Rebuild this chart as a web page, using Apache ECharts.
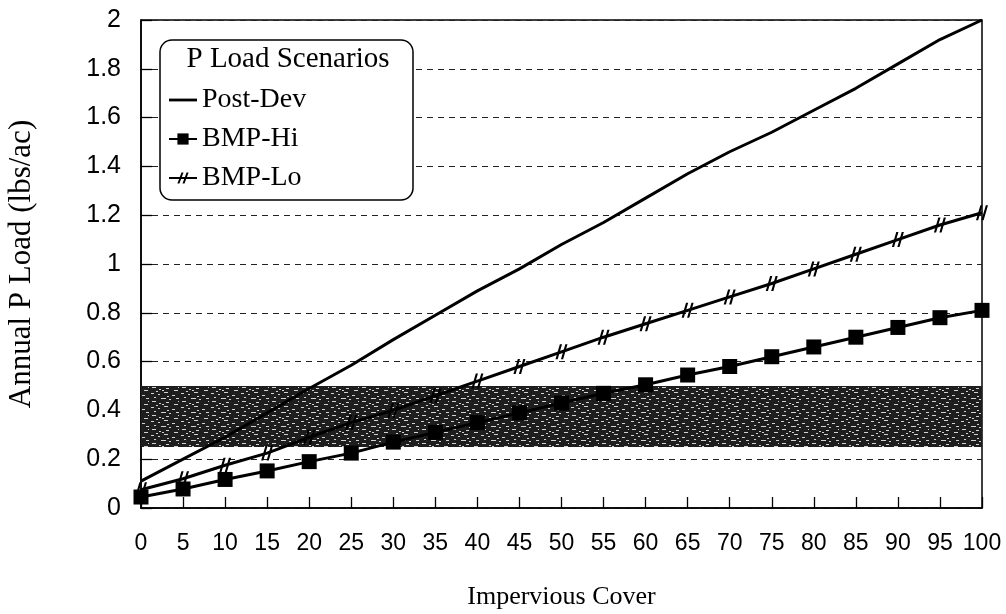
<!DOCTYPE html>
<html><head><meta charset="utf-8">
<script src="https://cdn.jsdelivr.net/npm/echarts@6/dist/echarts.min.js"></script>
<style>html,body{margin:0;padding:0;background:#fff}#c{width:1006px;height:614px}</style>
</head><body><div id="c"></div>
<script>
const xCats = [0,5,10,15,20,25,30,35,40,45,50,55,60,65,70,75,80,85,90,95,100];
const postDev = [0.11,0.20,0.29,0.39,0.49,0.585,0.69,0.79,0.89,0.98,1.08,1.17,1.27,1.37,1.46,1.54,1.63,1.72,1.82,1.92,2.00];
const bmpHi = [0.045,0.078,0.117,0.152,0.19,0.225,0.27,0.31,0.35,0.39,0.43,0.47,0.505,0.545,0.58,0.62,0.66,0.70,0.74,0.78,0.81];
const bmpLo = [0.075,0.12,0.175,0.225,0.29,0.35,0.40,0.46,0.52,0.58,0.64,0.70,0.755,0.81,0.865,0.92,0.98,1.04,1.10,1.16,1.21];
const bandRange = [0.25, 0.5];
const seriesNames = ['Post-Dev','BMP-Hi','BMP-Lo'];
const legendTitle = 'P Load Scenarios';
const xTitle = 'Impervious Cover';
const yTitle = 'Annual P Load (lbs/ac)';

function pairs(vals){ return xCats.map((x,i)=>[x, vals[i]]); }

// stipple texture for the band
const tile = document.createElement('canvas');
tile.width = 30; tile.height = 14;
const tc = tile.getContext('2d');
tc.fillStyle = '#1e1e1e'; tc.fillRect(0,0,30,14);
tc.fillStyle = 'rgba(255,255,255,0.8)';
const dots = [[1,1,3,1],[8,2,2,1],[14,0,4,1],[22,3,3,1],[4,5,2,1],[11,6,5,1],[19,7,2,1],[26,6,3,1],[2,9,4,1],[9,11,2,1],[16,10,3,1],[24,12,4,1],[6,13,2,1],[28,9,1,1],[17,4,2,1],[12,12,2,1]];
dots.forEach(d=>tc.fillRect(d[0],d[1],d[2],d[3]));

const hashSym = 'path://M4,0 L6,0 L2,12 L0,12 Z M9,0 L11,0 L7,12 L5,12 Z';
const lineIcon = 'path://M0,0 L30,0 L30,3 L0,3 Z';
const serif = '"Liberation Serif", "DejaVu Serif", serif';
const sans = '"Liberation Sans", Arial, sans-serif';

const chart = echarts.init(document.getElementById('c'));
chart.setOption({
  animation: false,
  backgroundColor: '#fff',
  grid: { left: 141, right: 24, top: 20, bottom: 106, containLabel: false, outerBoundsMode: 'none',
    show: true, borderColor: '#000', borderWidth: 1.5 },
  xAxis: {
    type: 'value', min: 0, max: 100, interval: 5,
    name: xTitle, nameLocation: 'middle', nameGap: 76,
    nameTextStyle: { fontFamily: serif, fontSize: 26, color: '#000' },
    axisLine: { lineStyle: { color: '#000', width: 1.5 } },
    axisTick: { inside: true, length: 11, lineStyle: { color: '#000', width: 1.3 } },
    axisLabel: { fontFamily: sans, fontSize: 23, color: '#000', margin: 24 },
    splitLine: { show: false }
  },
  yAxis: {
    type: 'value', min: 0, max: 2, interval: 0.2,
    name: yTitle, nameLocation: 'middle', nameGap: 104,
    nameTextStyle: { fontFamily: serif, fontSize: 31, color: '#000' },
    axisLine: { lineStyle: { color: '#000', width: 1.5 } },
    axisTick: { inside: true, length: 11, lineStyle: { color: '#000', width: 1.3 } },
    axisLabel: { fontFamily: sans, fontSize: 25, color: '#000', margin: 20 },
    splitLine: { show: true, lineStyle: { color: '#222', width: 1.2, type: [6,5] } }
  },
  legend: {
    orient: 'vertical', left: 163, top: 81, z: 20,
    itemWidth: 28, itemHeight: 14, itemGap: 11,
    textStyle: { fontFamily: serif, fontSize: 28, color: '#000' },
    data: [{ name: seriesNames[0], icon: lineIcon }, seriesNames[1], seriesNames[2]]
  },
  graphic: [
    { type: 'rect', z: 10, shape: { x: 160, y: 40, width: 253, height: 160, r: 12 },
      style: { fill: '#fff', stroke: '#000', lineWidth: 1.5 } },
    { type: 'text', z: 11, x: 288, y: 45, style: { text: legendTitle, font: '29px ' + serif, fill: '#000', textAlign: 'center' } }
  ],
  series: [
    { name: 'band', type: 'line', data: [], silent: true, z: 1,
      markArea: { silent: true, itemStyle: { color: { image: tile, repeat: 'repeat' } },
        data: [[{ xAxis: 0, yAxis: bandRange[0] }, { xAxis: 100, yAxis: bandRange[1] }]] } },
    { name: seriesNames[0], type: 'line', data: pairs(postDev), symbol: 'none', z: 5,
      lineStyle: { color: '#000', width: 3 }, itemStyle: { color: '#000' } },
    { name: seriesNames[1], type: 'line', data: pairs(bmpHi), symbol: 'rect', symbolSize: 15, z: 5,
      lineStyle: { color: '#000', width: 3 }, itemStyle: { color: '#000' } },
    { name: seriesNames[2], type: 'line', data: pairs(bmpLo), symbol: hashSym, symbolSize: [12,15], z: 5,
      lineStyle: { color: '#000', width: 3 }, itemStyle: { color: '#000' } }
  ]
});
</script></body></html>
